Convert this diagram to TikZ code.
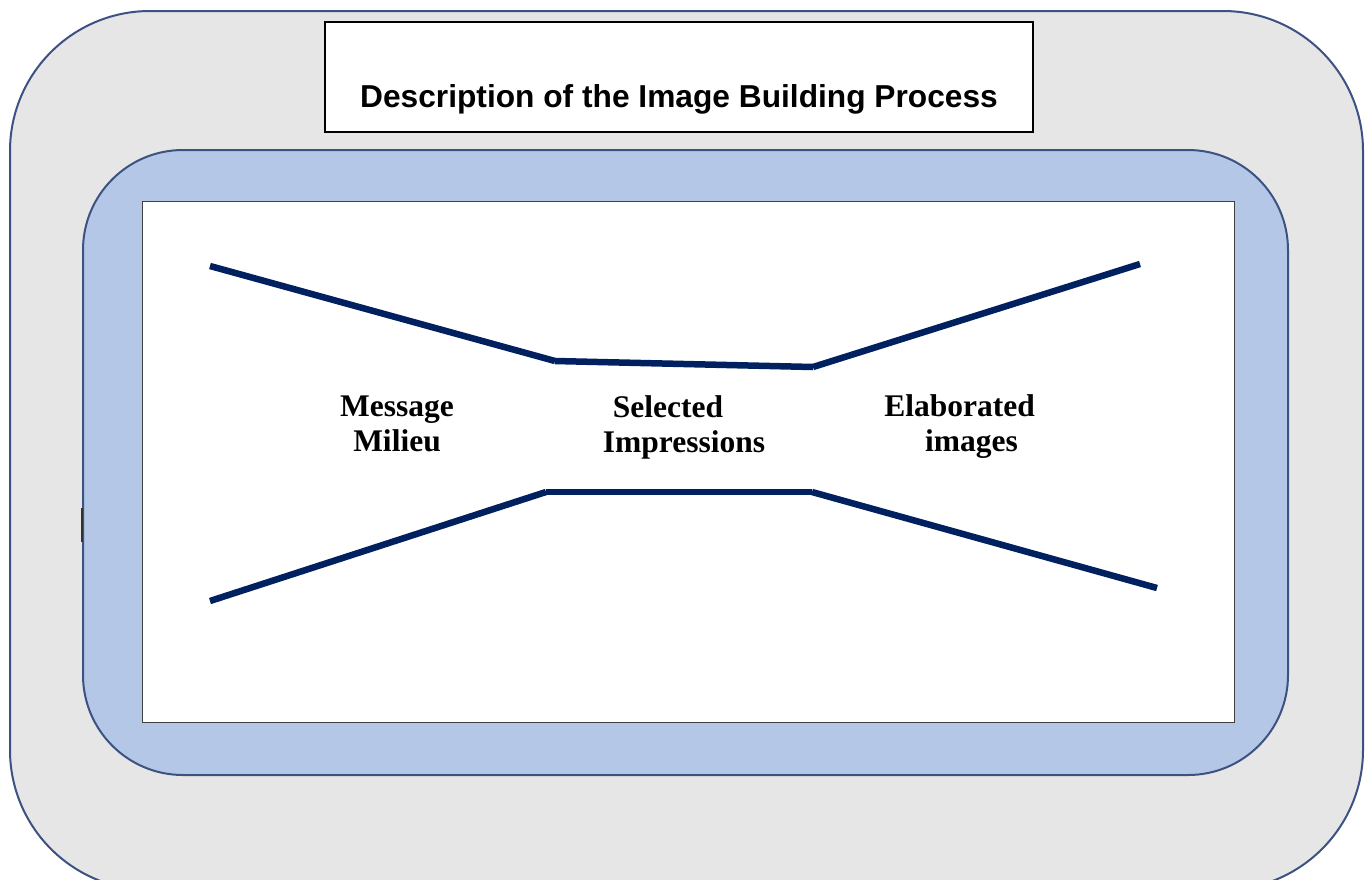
\documentclass[tikz,border=0pt]{standalone}
\usepackage{xcolor}
\usepackage{fontspec}
\setmainfont{Liberation Serif}
\newfontfamily\titlefont{Liberation Sans}
\usepackage{tikz}

\definecolor{outergray}{HTML}{E7E6E6}
\definecolor{innerblue}{HTML}{B4C7E7}
\definecolor{framecol}{HTML}{3B5283}
\definecolor{boxgray}{HTML}{404040}
\definecolor{navy}{HTML}{002060}

\begin{document}
\begin{tikzpicture}[x=1pt,y=-1pt,
		roundframe/.style={draw=framecol,line width=2pt,rounded corners=#1},
		bar/.style={draw=navy,line width=6.5pt},
		lbl/.style={font=\fontsize{31.5}{35}\selectfont\bfseries,align=center,inner sep=0pt}]
				\useasboundingbox (0,0) rectangle (1371,879);
				\draw[roundframe=140pt,fill=outergray] (10,11) rectangle (1363,890);
				\draw[roundframe=100pt,fill=innerblue] (83,150) rectangle (1288,775);
				\draw[fill=white,draw=boxgray,line width=1pt] (142,201) rectangle (1234,722);
				\draw[line width=2.5pt,draw=black!80] (82,508) -- (82,542);
				\node[draw=black,line width=1.2pt,fill=white,minimum width=708pt,minimum height=110pt] (titlebox) at (679,77) {};
				\node[font=\titlefont\fontsize{31.7}{36}\selectfont\bfseries,anchor=base,inner sep=0pt] (title) at ([yshift=25pt]titlebox.south) {Description of the Image Building Process};
				\coordinate (TL) at (210,266);
				\coordinate (TM) at (555,361);
				\coordinate (TM') at (813,367);
				\coordinate (TR) at (1140,264);
				\coordinate (BL) at (210,601);
				\coordinate (BM) at (546,492);
				\coordinate (BM') at (812,492);
				\coordinate (BR) at (1157,588);
				\draw[bar] (TL) -- (TM);
				\draw[bar] (TM) -- (TM');
				\draw[bar] (TM') -- (TR);
				\draw[bar] (BL) -- (BM);
				\draw[bar] (BM) -- (BM');
				\draw[bar] (BM') -- (BR);
				\node[lbl] (milieu) at (397,424) {Message\\Milieu};
				\node[lbl] (impressions) at (684,427) {Selected\hspace*{32pt}\mbox{}\\Impressions};
				\node[lbl] (images) at (971.5,427) {Elaborated\hspace*{24pt}\mbox{}\\images};
			\end{tikzpicture}
\end{document}
